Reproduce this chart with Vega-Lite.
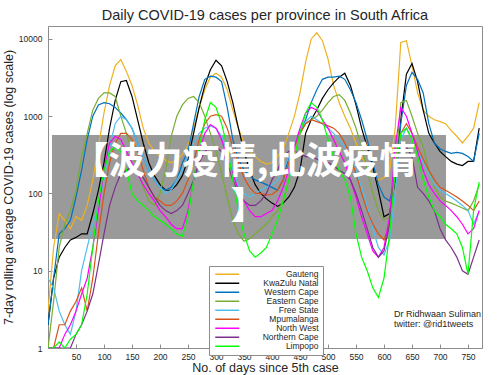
{
"$schema": "https://vega.github.io/schema/vega-lite/v6.json",
"width": 434, "height": 322,
"autosize": {"type": "none"},
"padding": {"left": 48, "top": 26, "right": 18, "bottom": 27},
"background": "white",
"config": {"font": "Liberation Sans", "view": {"stroke": "#8c8c8c"}},
"title": {"text": "Daily COVID-19 cases per province in South Africa", "fontSize": 14.5, "fontWeight": "normal", "color": "#262626", "offset": 3, "anchor": "middle", "font": "Liberation Sans"},
"encoding": {
  "x": {"field": "d", "type": "quantitative", "scale": {"domain": [0, 775], "nice": false, "zero": false},
        "axis": {"values": [50,100,150,200,250,300,350,400,450,500,550,600,650,700,750], "format": "d", "title": "No. of days since 5th case", "grid": false, "tickSize": -4, "labelPadding": 8, "titlePadding": 1, "labelFontSize": 8.5, "titleFontSize": 12.5, "titleFontWeight": "normal", "domainColor": "#8c8c8c", "tickColor": "#8c8c8c", "labelColor": "#262626", "titleColor": "#262626"}},
  "y": {"field": "v", "type": "quantitative", "scale": {"type": "log", "domain": [1, 14700], "nice": false},
        "axis": {"values": [1,10,100,1000,10000], "format": "d", "title": "7-day rolling average COVID-19 cases (log scale)", "grid": false, "tickSize": -4, "labelPadding": 10, "titlePadding": 3, "labelFontSize": 8.5, "titleFontSize": 12.5, "titleFontWeight": "normal", "domainColor": "#8c8c8c", "tickColor": "#8c8c8c", "labelColor": "#262626", "titleColor": "#262626"}}
},
"layer": [
 {"data": {"values": [{"d": 7.1, "d2": 710.7, "v": 570, "v2": 25.7}]},
  "mark": {"type": "rect", "color": "#9a9a9a"},
  "encoding": {"x2": {"field": "d2"}, "y2": {"field": "v2"}}},
 {"data": {"values": [
{"d":0,"Gauteng":3,"KwaZulu Natal":2,"Western Cape":2,"Eastern Cape":1,"Free State":8,"Mpumalanga":1,"North West":1,"Northern Cape":1,"Limpopo":1},
{"d":10,"Gauteng":20,"KwaZulu Natal":8,"Western Cape":8,"Eastern Cape":4,"Free State":6,"Mpumalanga":1,"North West":1,"Northern Cape":1,"Limpopo":1},
{"d":20,"Gauteng":55,"KwaZulu Natal":15,"Western Cape":30,"Eastern Cape":20,"Free State":3,"Mpumalanga":2,"North West":1,"Northern Cape":1,"Limpopo":1.2},
{"d":30,"Gauteng":45,"KwaZulu Natal":20,"Western Cape":35,"Eastern Cape":40,"Free State":2,"Mpumalanga":2,"North West":1.5,"Northern Cape":1,"Limpopo":1},
{"d":40,"Gauteng":35,"KwaZulu Natal":25,"Western Cape":45,"Eastern Cape":60,"Free State":1.5,"Mpumalanga":3,"North West":2,"Northern Cape":1,"Limpopo":1.3},
{"d":50,"Gauteng":50,"KwaZulu Natal":27,"Western Cape":90,"Eastern Cape":110,"Free State":3,"Mpumalanga":4,"North West":3,"Northern Cape":1.5,"Limpopo":1.5},
{"d":60,"Gauteng":45,"KwaZulu Natal":30,"Western Cape":200,"Eastern Cape":300,"Free State":10,"Mpumalanga":6,"North West":5,"Northern Cape":2,"Limpopo":2},
{"d":70,"Gauteng":70,"KwaZulu Natal":30,"Western Cape":500,"Eastern Cape":600,"Free State":20,"Mpumalanga":3,"North West":8,"Northern Cape":3,"Limpopo":5},
{"d":80,"Gauteng":150,"KwaZulu Natal":55,"Western Cape":1000,"Eastern Cape":1200,"Free State":40,"Mpumalanga":8,"North West":20,"Northern Cape":5,"Limpopo":20},
{"d":90,"Gauteng":400,"KwaZulu Natal":110,"Western Cape":1400,"Eastern Cape":1700,"Free State":70,"Mpumalanga":30,"North West":60,"Northern Cape":12,"Limpopo":80},
{"d":100,"Gauteng":1100,"KwaZulu Natal":250,"Western Cape":1500,"Eastern Cape":2000,"Free State":150,"Mpumalanga":100,"North West":200,"Northern Cape":30,"Limpopo":200},
{"d":110,"Gauteng":2500,"KwaZulu Natal":700,"Western Cape":1450,"Eastern Cape":2000,"Free State":400,"Mpumalanga":250,"North West":450,"Northern Cape":70,"Limpopo":350},
{"d":120,"Gauteng":4500,"KwaZulu Natal":1600,"Western Cape":1300,"Eastern Cape":1800,"Free State":800,"Mpumalanga":450,"North West":550,"Northern Cape":120,"Limpopo":400},
{"d":130,"Gauteng":5400,"KwaZulu Natal":2800,"Western Cape":1100,"Eastern Cape":1000,"Free State":1000,"Mpumalanga":600,"North West":500,"Northern Cape":180,"Limpopo":350},
{"d":140,"Gauteng":3800,"KwaZulu Natal":2900,"Western Cape":900,"Eastern Cape":600,"Free State":900,"Mpumalanga":600,"North West":350,"Northern Cape":200,"Limpopo":200},
{"d":150,"Gauteng":2500,"KwaZulu Natal":1800,"Western Cape":700,"Eastern Cape":350,"Free State":700,"Mpumalanga":500,"North West":250,"Northern Cape":220,"Limpopo":100},
{"d":160,"Gauteng":1400,"KwaZulu Natal":900,"Western Cape":450,"Eastern Cape":200,"Free State":450,"Mpumalanga":350,"North West":180,"Northern Cape":200,"Limpopo":80},
{"d":170,"Gauteng":700,"KwaZulu Natal":450,"Western Cape":300,"Eastern Cape":120,"Free State":300,"Mpumalanga":200,"North West":130,"Northern Cape":160,"Limpopo":70},
{"d":180,"Gauteng":450,"KwaZulu Natal":250,"Western Cape":200,"Eastern Cape":80,"Free State":200,"Mpumalanga":120,"North West":100,"Northern Cape":120,"Limpopo":60},
{"d":190,"Gauteng":350,"KwaZulu Natal":170,"Western Cape":150,"Eastern Cape":70,"Free State":150,"Mpumalanga":90,"North West":80,"Northern Cape":90,"Limpopo":50},
{"d":200,"Gauteng":300,"KwaZulu Natal":130,"Western Cape":120,"Eastern Cape":100,"Free State":120,"Mpumalanga":80,"North West":60,"Northern Cape":70,"Limpopo":45},
{"d":210,"Gauteng":270,"KwaZulu Natal":110,"Western Cape":110,"Eastern Cape":200,"Free State":100,"Mpumalanga":70,"North West":50,"Northern Cape":60,"Limpopo":40},
{"d":220,"Gauteng":250,"KwaZulu Natal":110,"Western Cape":120,"Eastern Cape":550,"Free State":110,"Mpumalanga":70,"North West":40,"Northern Cape":55,"Limpopo":35},
{"d":230,"Gauteng":270,"KwaZulu Natal":130,"Western Cape":150,"Eastern Cape":1000,"Free State":150,"Mpumalanga":80,"North West":35,"Northern Cape":60,"Limpopo":30},
{"d":240,"Gauteng":320,"KwaZulu Natal":170,"Western Cape":250,"Eastern Cape":1400,"Free State":200,"Mpumalanga":100,"North West":35,"Northern Cape":70,"Limpopo":28},
{"d":250,"Gauteng":420,"KwaZulu Natal":280,"Western Cape":350,"Eastern Cape":1700,"Free State":300,"Mpumalanga":150,"North West":60,"Northern Cape":100,"Limpopo":50},
{"d":260,"Gauteng":700,"KwaZulu Natal":600,"Western Cape":800,"Eastern Cape":1800,"Free State":450,"Mpumalanga":250,"North West":150,"Northern Cape":150,"Limpopo":150},
{"d":270,"Gauteng":1300,"KwaZulu Natal":1300,"Western Cape":1800,"Eastern Cape":1500,"Free State":600,"Mpumalanga":500,"North West":350,"Northern Cape":250,"Limpopo":400},
{"d":280,"Gauteng":2200,"KwaZulu Natal":2500,"Western Cape":3000,"Eastern Cape":1000,"Free State":700,"Mpumalanga":800,"North West":600,"Northern Cape":350,"Limpopo":900},
{"d":290,"Gauteng":3200,"KwaZulu Natal":4000,"Western Cape":3300,"Eastern Cape":600,"Free State":750,"Mpumalanga":1000,"North West":780,"Northern Cape":400,"Limpopo":1500},
{"d":300,"Gauteng":3600,"KwaZulu Natal":5300,"Western Cape":3200,"Eastern Cape":350,"Free State":700,"Mpumalanga":1050,"North West":700,"Northern Cape":400,"Limpopo":1300},
{"d":310,"Gauteng":3200,"KwaZulu Natal":4500,"Western Cape":2800,"Eastern Cape":180,"Free State":550,"Mpumalanga":1000,"North West":500,"Northern Cape":350,"Limpopo":800},
{"d":320,"Gauteng":2200,"KwaZulu Natal":2800,"Western Cape":1300,"Eastern Cape":90,"Free State":350,"Mpumalanga":700,"North West":300,"Northern Cape":250,"Limpopo":400},
{"d":330,"Gauteng":1200,"KwaZulu Natal":1500,"Western Cape":500,"Eastern Cape":45,"Free State":200,"Mpumalanga":400,"North West":180,"Northern Cape":150,"Limpopo":150},
{"d":340,"Gauteng":700,"KwaZulu Natal":700,"Western Cape":280,"Eastern Cape":30,"Free State":130,"Mpumalanga":250,"North West":110,"Northern Cape":100,"Limpopo":60},
{"d":350,"Gauteng":450,"KwaZulu Natal":350,"Western Cape":200,"Eastern Cape":24,"Free State":100,"Mpumalanga":160,"North West":80,"Northern Cape":80,"Limpopo":30},
{"d":360,"Gauteng":350,"KwaZulu Natal":200,"Western Cape":170,"Eastern Cape":26,"Free State":90,"Mpumalanga":120,"North West":60,"Northern Cape":70,"Limpopo":18},
{"d":370,"Gauteng":300,"KwaZulu Natal":130,"Western Cape":150,"Eastern Cape":30,"Free State":100,"Mpumalanga":100,"North West":50,"Northern Cape":70,"Limpopo":15},
{"d":380,"Gauteng":260,"KwaZulu Natal":100,"Western Cape":140,"Eastern Cape":35,"Free State":110,"Mpumalanga":100,"North West":50,"Northern Cape":80,"Limpopo":17},
{"d":390,"Gauteng":240,"KwaZulu Natal":85,"Western Cape":130,"Eastern Cape":40,"Free State":120,"Mpumalanga":95,"North West":55,"Northern Cape":100,"Limpopo":20},
{"d":400,"Gauteng":250,"KwaZulu Natal":75,"Western Cape":120,"Eastern Cape":50,"Free State":130,"Mpumalanga":97,"North West":60,"Northern Cape":150,"Limpopo":30},
{"d":410,"Gauteng":300,"KwaZulu Natal":68,"Western Cape":110,"Eastern Cape":60,"Free State":150,"Mpumalanga":110,"North West":80,"Northern Cape":200,"Limpopo":45},
{"d":420,"Gauteng":380,"KwaZulu Natal":75,"Western Cape":150,"Eastern Cape":80,"Free State":200,"Mpumalanga":150,"North West":120,"Northern Cape":300,"Limpopo":80},
{"d":430,"Gauteng":600,"KwaZulu Natal":90,"Western Cape":300,"Eastern Cape":150,"Free State":300,"Mpumalanga":250,"North West":200,"Northern Cape":350,"Limpopo":150},
{"d":440,"Gauteng":1000,"KwaZulu Natal":120,"Western Cape":450,"Eastern Cape":300,"Free State":450,"Mpumalanga":400,"North West":400,"Northern Cape":350,"Limpopo":300},
{"d":450,"Gauteng":2000,"KwaZulu Natal":200,"Western Cape":600,"Eastern Cape":600,"Free State":650,"Mpumalanga":600,"North West":700,"Northern Cape":330,"Limpopo":600},
{"d":460,"Gauteng":5000,"KwaZulu Natal":600,"Western Cape":900,"Eastern Cape":800,"Free State":850,"Mpumalanga":800,"North West":1100,"Northern Cape":300,"Limpopo":1100},
{"d":470,"Gauteng":10000,"KwaZulu Natal":900,"Western Cape":1500,"Eastern Cape":900,"Free State":1000,"Mpumalanga":900,"North West":1300,"Northern Cape":300,"Limpopo":1500},
{"d":480,"Gauteng":12000,"KwaZulu Natal":1200,"Western Cape":2200,"Eastern Cape":1000,"Free State":900,"Mpumalanga":850,"North West":1200,"Northern Cape":280,"Limpopo":1300},
{"d":490,"Gauteng":9500,"KwaZulu Natal":1700,"Western Cape":3000,"Eastern Cape":1200,"Free State":800,"Mpumalanga":800,"North West":900,"Northern Cape":250,"Limpopo":900},
{"d":500,"Gauteng":5500,"KwaZulu Natal":2200,"Western Cape":3200,"Eastern Cape":1500,"Free State":700,"Mpumalanga":750,"North West":700,"Northern Cape":250,"Limpopo":500},
{"d":510,"Gauteng":2500,"KwaZulu Natal":2700,"Western Cape":3200,"Eastern Cape":1800,"Free State":600,"Mpumalanga":700,"North West":500,"Northern Cape":230,"Limpopo":300},
{"d":520,"Gauteng":1500,"KwaZulu Natal":3200,"Western Cape":3300,"Eastern Cape":1900,"Free State":500,"Mpumalanga":600,"North West":350,"Northern Cape":200,"Limpopo":200},
{"d":530,"Gauteng":1000,"KwaZulu Natal":3600,"Western Cape":3000,"Eastern Cape":1600,"Free State":400,"Mpumalanga":450,"North West":250,"Northern Cape":180,"Limpopo":150},
{"d":540,"Gauteng":700,"KwaZulu Natal":2500,"Western Cape":2200,"Eastern Cape":1100,"Free State":300,"Mpumalanga":300,"North West":150,"Northern Cape":150,"Limpopo":90},
{"d":550,"Gauteng":450,"KwaZulu Natal":1400,"Western Cape":1500,"Eastern Cape":700,"Free State":200,"Mpumalanga":180,"North West":90,"Northern Cape":100,"Limpopo":30},
{"d":560,"Gauteng":300,"KwaZulu Natal":700,"Western Cape":900,"Eastern Cape":400,"Free State":120,"Mpumalanga":100,"North West":50,"Northern Cape":60,"Limpopo":15},
{"d":570,"Gauteng":220,"KwaZulu Natal":400,"Western Cape":500,"Eastern Cape":200,"Free State":70,"Mpumalanga":60,"North West":30,"Northern Cape":35,"Limpopo":10},
{"d":580,"Gauteng":170,"KwaZulu Natal":220,"Western Cape":250,"Eastern Cape":100,"Free State":35,"Mpumalanga":40,"North West":18,"Northern Cape":20,"Limpopo":6},
{"d":590,"Gauteng":150,"KwaZulu Natal":110,"Western Cape":130,"Eastern Cape":60,"Free State":20,"Mpumalanga":30,"North West":15,"Northern Cape":15,"Limpopo":4.5},
{"d":600,"Gauteng":160,"KwaZulu Natal":50,"Western Cape":90,"Eastern Cape":45,"Free State":16,"Mpumalanga":25,"North West":20,"Northern Cape":18,"Limpopo":8},
{"d":610,"Gauteng":200,"KwaZulu Natal":55,"Western Cape":80,"Eastern Cape":50,"Free State":25,"Mpumalanga":40,"North West":50,"Northern Cape":40,"Limpopo":30},
{"d":620,"Gauteng":700,"KwaZulu Natal":150,"Western Cape":150,"Eastern Cape":200,"Free State":100,"Mpumalanga":200,"North West":400,"Northern Cape":200,"Limpopo":200},
{"d":630,"Gauteng":9000,"KwaZulu Natal":900,"Western Cape":800,"Eastern Cape":1500,"Free State":500,"Mpumalanga":600,"North West":1300,"Northern Cape":450,"Limpopo":600},
{"d":640,"Gauteng":9500,"KwaZulu Natal":3500,"Western Cape":2500,"Eastern Cape":1600,"Free State":700,"Mpumalanga":800,"North West":1000,"Northern Cape":400,"Limpopo":700},
{"d":650,"Gauteng":4500,"KwaZulu Natal":4800,"Western Cape":3700,"Eastern Cape":1000,"Free State":500,"Mpumalanga":600,"North West":600,"Northern Cape":300,"Limpopo":500},
{"d":660,"Gauteng":2000,"KwaZulu Natal":2800,"Western Cape":3000,"Eastern Cape":600,"Free State":350,"Mpumalanga":400,"North West":350,"Northern Cape":120,"Limpopo":300},
{"d":670,"Gauteng":1200,"KwaZulu Natal":1200,"Western Cape":2000,"Eastern Cape":400,"Free State":250,"Mpumalanga":280,"North West":200,"Northern Cape":100,"Limpopo":150},
{"d":680,"Gauteng":1000,"KwaZulu Natal":600,"Western Cape":800,"Eastern Cape":200,"Free State":180,"Mpumalanga":200,"North West":130,"Northern Cape":80,"Limpopo":90},
{"d":690,"Gauteng":900,"KwaZulu Natal":450,"Western Cape":450,"Eastern Cape":120,"Free State":130,"Mpumalanga":150,"North West":100,"Northern Cape":60,"Limpopo":60},
{"d":700,"Gauteng":850,"KwaZulu Natal":350,"Western Cape":380,"Eastern Cape":90,"Free State":110,"Mpumalanga":120,"North West":80,"Northern Cape":35,"Limpopo":50},
{"d":710,"Gauteng":800,"KwaZulu Natal":300,"Western Cape":350,"Eastern Cape":80,"Free State":100,"Mpumalanga":110,"North West":70,"Northern Cape":25,"Limpopo":40},
{"d":720,"Gauteng":650,"KwaZulu Natal":260,"Western Cape":330,"Eastern Cape":75,"Free State":90,"Mpumalanga":100,"North West":60,"Northern Cape":20,"Limpopo":35},
{"d":730,"Gauteng":550,"KwaZulu Natal":240,"Western Cape":340,"Eastern Cape":70,"Free State":80,"Mpumalanga":90,"North West":50,"Northern Cape":15,"Limpopo":30},
{"d":740,"Gauteng":450,"KwaZulu Natal":230,"Western Cape":330,"Eastern Cape":65,"Free State":70,"Mpumalanga":80,"North West":40,"Northern Cape":10,"Limpopo":20},
{"d":750,"Gauteng":550,"KwaZulu Natal":260,"Western Cape":300,"Eastern Cape":60,"Free State":60,"Mpumalanga":70,"North West":30,"Northern Cape":9,"Limpopo":9},
{"d":760,"Gauteng":700,"KwaZulu Natal":260,"Western Cape":260,"Eastern Cape":80,"Free State":40,"Mpumalanga":60,"North West":35,"Northern Cape":15,"Limpopo":60},
{"d":770,"Gauteng":1500,"KwaZulu Natal":700,"Western Cape":600,"Eastern Cape":130,"Free State":60,"Mpumalanga":80,"North West":60,"Northern Cape":25,"Limpopo":140}
 ]},
  "transform": [{"fold": ["Gauteng","KwaZulu Natal","Western Cape","Eastern Cape","Free State","Mpumalanga","North West","Northern Cape","Limpopo"], "as": ["province", "v"]}],
  "mark": {"type": "line", "strokeWidth": 1.2, "clip": true},
  "encoding": {
    "color": {"field": "province", "type": "nominal",
      "scale": {"domain": ["Gauteng","KwaZulu Natal","Western Cape","Eastern Cape","Free State","Mpumalanga","North West","Northern Cape","Limpopo"],
                "range": ["#EDB120","#000000","#0072BD","#77AC30","#4DBEEE","#D95319","#FF00FF","#7E2F8E","#00FF00"]},
      "legend": {"title": null, "orient": "none", "legendX": 161, "legendY": 240, "symbolType": "M-1,0H11", "symbolSize": 16, "symbolStrokeWidth": 1.5, "symbolFillColor": "transparent", "labelFontSize": 8.5, "labelAlign": "right", "labelOffset": 97, "fillColor": "white", "strokeColor": "#8c8c8c", "padding": 4, "rowPadding": -0.5, "labelColor": "#262626", "labelLimit": 200}}
  }},
 {"data": {"values": [{"d": 350, "v": 247, "t": "【波力疫情,此波疫情"}, {"d": 359, "v": 65, "t": "】"}]},
  "mark": {"type": "text", "font": "Noto Sans CJK SC", "fontSize": 37, "fontWeight": "bold", "color": "white", "align": "center", "baseline": "middle"},
  "encoding": {"text": {"field": "t"}}},
 {"data": {"values": [{"d": 618, "v": 2.75, "t": "Dr Ridhwaan Suliman"}, {"d": 618, "v": 2.04, "t": "twitter: @rid1tweets"}]},
  "mark": {"type": "text", "fontSize": 9, "color": "#262626", "align": "left", "baseline": "middle"},
  "encoding": {"text": {"field": "t"}}}
]
}
